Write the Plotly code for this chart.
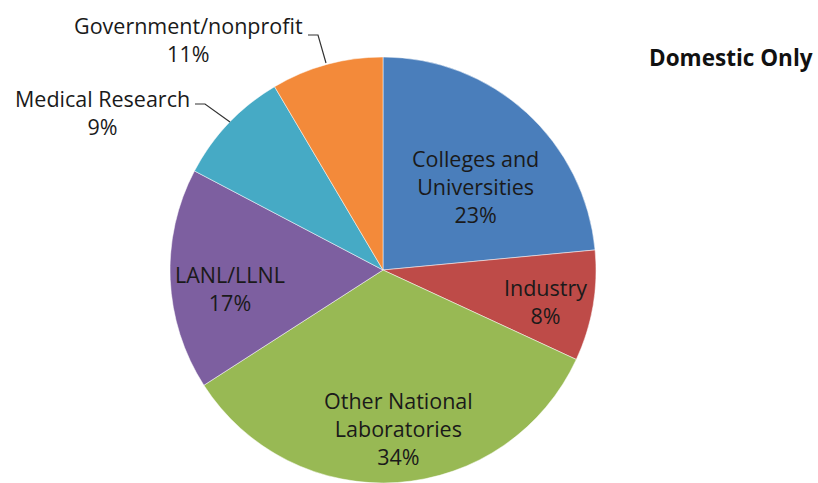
import plotly.graph_objects as go

categories = ["Colleges and<br>Universities", "Industry", "Other National<br>Laboratories",
              "LANL/LLNL", "Medical Research", "Government/nonprofit"]
shares = [23.5, 8.4, 34.0, 16.8, 8.8, 8.5]
pct_labels = ["23%", "8%", "34%", "17%", "9%", "11%"]
colors = ["#4A7EBB", "#BE4B48", "#98B954", "#7D5FA0", "#46AAC5", "#F38A3A"]
title_text = "Domestic Only"

W, H = 818, 483

fig = go.Figure(go.Pie(
    labels=categories,
    values=shares,
    sort=False,
    direction="clockwise",
    rotation=0,
    marker=dict(colors=colors, line=dict(color="white", width=0.5)),
    textinfo="none",
    hoverinfo="label+percent",
    showlegend=False,
    domain=dict(x=[(383 - 213) / W, (383 + 213) / W], y=[0, 1 - 57 / H]),
))

# label placement (pixels) -- style only
label_pos = [(475, 186), (545, 301), (398, 428), (230, 288), (102, 112), (188, 40)]
font = dict(family="Open Sans, sans-serif", size=21.5, color="#1a1a1a")
for cat, pct, (px, py) in zip(categories, pct_labels, label_pos):
    fig.add_annotation(x=px / W, y=1 - py / H, xref="paper", yref="paper",
                       text=f"{cat}<br>{pct}", showarrow=False, font=font,
                       xanchor="center", yanchor="middle", align="center")

# leader lines for outside labels
for pts in ([(195, 104), (205, 104), (230, 122)], [(308, 35), (318, 35), (326, 63)]):
    path = "M " + " L ".join(f"{x / W} {1 - y / H}" for x, y in pts)
    fig.add_shape(type="path", path=path, xref="paper", yref="paper",
                  line=dict(color="#333333", width=1.2))

fig.add_annotation(x=815 / W, y=1 - 57 / H, xref="paper", yref="paper",
                   text=f"<b>{title_text}</b>", showarrow=False,
                   font=dict(family="Open Sans, sans-serif", size=22.5, color="#111111"),
                   xanchor="right", yanchor="middle")

fig.update_layout(width=W, height=H, margin=dict(l=0, r=0, t=0, b=0),
                  paper_bgcolor="white", plot_bgcolor="white")

fig.write_html("out.html", config={"displayModeBar": False},
               post_script="document.body.style.margin='0';document.body.style.overflow='hidden';")
